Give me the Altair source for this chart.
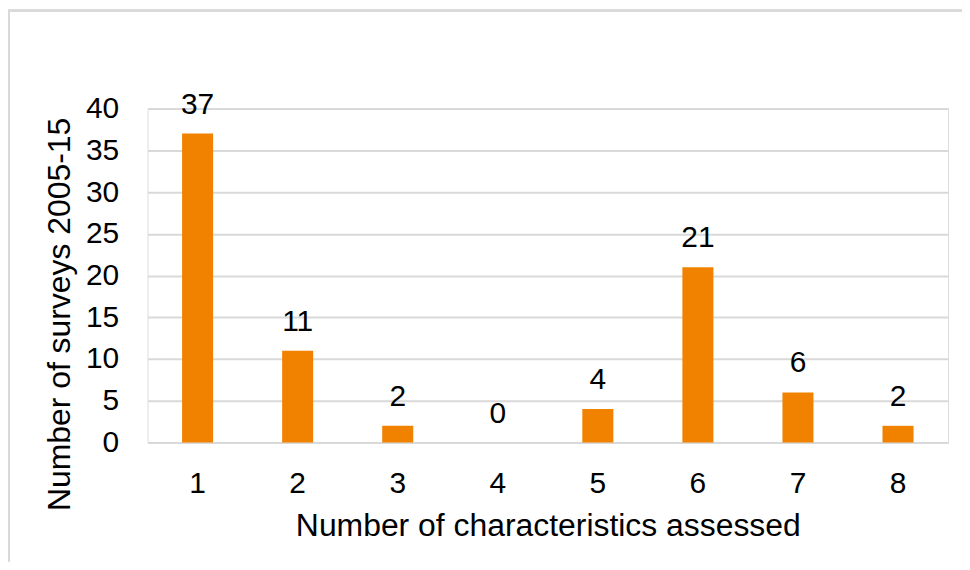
import altair as alt
import pandas as pd

categories = ["1", "2", "3", "4", "5", "6", "7", "8"]
surveys = [37, 11, 2, 0, 4, 21, 6, 2]

df = pd.DataFrame({"cat": categories, "val": surveys})

W, H = 803, 335
FONT = "Liberation Sans"
FS = 30
TFS = 32

base = alt.Chart(df)

bars = base.mark_bar(color="#F08200").encode(
    x=alt.X("cat:O", sort=categories,
            scale=alt.Scale(paddingInner=0.69, paddingOuter=0.345),
            axis=alt.Axis(title="Number of characteristics assessed", labelAngle=0,
                          labelFontSize=FS, labelFont=FONT, labelColor="#000000",
                          labelPadding=26, ticks=False, domain=False, grid=False,
                          titleFontSize=TFS, titleFont=FONT, titleFontWeight="normal",
                          titleColor="#000000", titleY=83,
                          titleBaseline="middle", titleAlign="center")),
    y=alt.Y("val:Q", scale=alt.Scale(domain=[0, 40]),
            axis=alt.Axis(title="Number of surveys 2005-15", values=list(range(0, 45, 5)),
                          labelFontSize=FS, labelFont=FONT, labelColor="#000000",
                          labelPadding=29, ticks=False, domain=False,
                          gridColor="#d9d9d9", gridWidth=2,
                          titleFontSize=TFS, titleFont=FONT, titleFontWeight="normal",
                          titleColor="#000000", titleX=-88, titleY=206,
                          titleBaseline="middle", titleAlign="center")),
)

labels = base.mark_text(fontSize=FS, font=FONT, color="#000000", baseline="alphabetic", dy=-20).encode(
    x=alt.X("cat:O", sort=categories),
    y="val:Q",
    text="val:Q",
)

top_border = base.mark_rule(color="#d9d9d9", strokeWidth=2).encode(
    x=alt.value(-140), x2=alt.value(W + 14), y=alt.value(-98)
)
left_border = base.mark_rule(color="#d9d9d9", strokeWidth=2).encode(
    x=alt.value(-139), y=alt.value(-99), y2=alt.value(H + 119)
)

chart = alt.layer(top_border, left_border, bars, labels).properties(
    width=W, height=H,
    autosize=alt.AutoSizeParams(type="none"),
    padding={"left": 140, "top": 100, "right": 14, "bottom": 119},
).configure_view(stroke=None).configure(background="white")

chart.save("out.html", embed_options={"renderer": "svg", "actions": False})
